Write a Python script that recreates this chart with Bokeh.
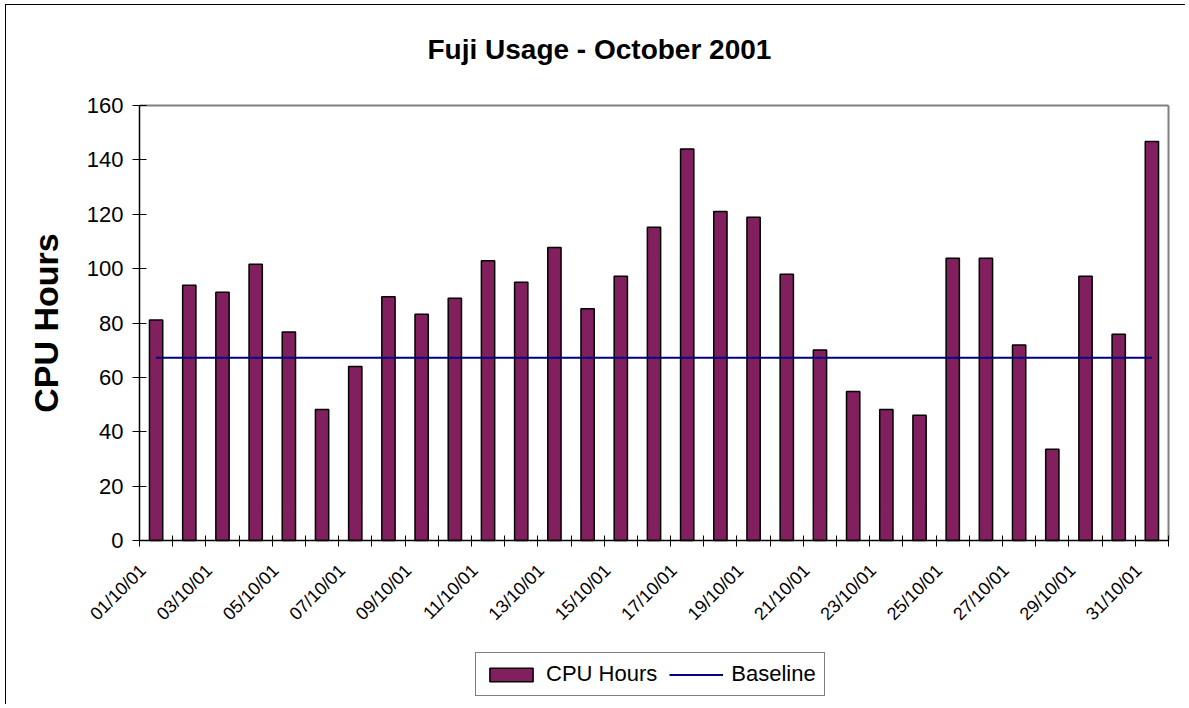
import math
import numpy as np
from bokeh.plotting import figure
from bokeh.models import Range1d, FixedTicker, Legend, LegendItem
from bokeh.embed import file_html
from bokeh.resources import INLINE

# ---------------- data ----------------
dates = ["01/10/01", "02/10/01", "03/10/01", "04/10/01", "05/10/01", "06/10/01",
         "07/10/01", "08/10/01", "09/10/01", "10/10/01", "11/10/01", "12/10/01",
         "13/10/01", "14/10/01", "15/10/01", "16/10/01", "17/10/01", "18/10/01",
         "19/10/01", "20/10/01", "21/10/01", "22/10/01", "23/10/01", "24/10/01",
         "25/10/01", "26/10/01", "27/10/01", "28/10/01", "29/10/01", "30/10/01",
         "31/10/01"]
cpu_hours = [81.1, 93.9, 91.3, 101.6, 76.7, 48.2, 64.0, 89.7, 83.2, 89.1,
             102.9, 95.0, 107.8, 85.2, 97.2, 115.2, 144.0, 121.0, 118.9, 97.9,
             70.1, 54.8, 48.2, 46.1, 103.8, 103.8, 71.9, 33.6, 97.2, 75.9,
             146.8]
baseline = [67.2, 67.2, 67.2, 67.2, 67.2, 67.2, 67.2, 67.2, 67.2, 67.2,
            67.2, 67.2, 67.2, 67.2, 67.2, 67.2, 67.2, 67.2, 67.2, 67.2,
            67.2, 67.2, 67.2, 67.2, 67.2, 67.2, 67.2, 67.2, 67.2, 67.2,
            67.2]
y_ticks = [0, 20, 40, 60, 80, 100, 120, 140, 160]
y_min, y_max = 0, 160
title_text = "Fuji Usage - October 2001"
y_label = "CPU Hours"

FONT = "Liberation Sans"
BAR_COLOR = "#82205F"
LINE_COLOR = "#000080"
GRAY = "#808080"

n = len(dates)
xpos = np.arange(1, n + 1)
x_lo, x_hi = 0.5, n + 0.5            # category-axis extent
label_idx = list(range(0, n, 2))     # every other category is labelled
label_pos = [float(xpos[i]) - 0.4 for i in label_idx]
boundaries = [float(v) for v in np.arange(x_lo, x_hi + 0.5, 1.0)]

# ---------------- layout (pixels) ----------------
W, H = 1180, 700
FR_LEFT, FR_RIGHT, FR_TOP, FR_BOTTOM = 4, 2, 80, 8    # frame borders
AX_LEFT, AX_RIGHT = 133, 1162        # value axis / right edge inside canvas
PAD_TOP = 20                          # px from frame top down to value max
PAD_BOTTOM = 157                      # px from frame bottom up to value 0
px_per_cat = (AX_RIGHT - AX_LEFT) / n
frame_h = H - FR_TOP - FR_BOTTOM
px_per_val = (frame_h - PAD_TOP - PAD_BOTTOM) / (y_max - y_min)

xr = Range1d(x_lo - (AX_LEFT - FR_LEFT) / px_per_cat,
             x_hi + (W - FR_RIGHT - AX_RIGHT) / px_per_cat)
yr = Range1d(y_min - PAD_BOTTOM / px_per_val, y_max + PAD_TOP / px_per_val)

p = figure(width=W, height=H, x_range=xr, y_range=yr,
           output_backend="svg", toolbar_location=None,
           min_border_left=FR_LEFT, min_border_right=FR_RIGHT,
           min_border_top=FR_TOP, min_border_bottom=FR_BOTTOM)
p.styles = {"margin-left": "5px", "margin-top": "4px",
            "border-left": "1px solid black", "border-top": "1px solid black"}

p.background_fill_color = "white"
p.border_fill_color = "white"
p.outline_line_color = None
p.xgrid.visible = False
p.ygrid.visible = False

# title
p.title.text = title_text
p.title.text_font = FONT
p.title.text_font_size = "28px"
p.title.text_font_style = "bold"
p.title.text_color = "black"
p.title.align = "left"
p.title.offset = 417
p.title.standoff = 42

# gray plot-area border (top and right)
p.segment(x0=[x_lo, x_hi], y0=[y_max, y_min], x1=[x_hi, x_hi], y1=[y_max, y_max],
          line_color=GRAY, line_width=2)

bars = p.vbar(x=xpos, top=cpu_hours, width=0.4, bottom=0,
              fill_color=BAR_COLOR, line_color="black", line_width=1.5)
line = p.line(x=xpos, y=baseline, line_color=LINE_COLOR, line_width=2)

# category axis at value 0
xa = p.xaxis[0]
xa.fixed_location = 0
xa.bounds = (x_lo, x_hi)
xa.ticker = FixedTicker(ticks=label_pos, minor_ticks=boundaries)
xa.major_label_overrides = {label_pos[k]: dates[i] for k, i in enumerate(label_idx)}
xa.major_label_orientation = math.pi / 4
xa.major_label_text_font = FONT
xa.major_label_text_font_size = "18px"
xa.major_label_text_color = "black"
xa.major_tick_in = 0
xa.major_tick_out = 0
xa.major_tick_line_color = None
xa.minor_tick_in = 5
xa.minor_tick_out = 6
xa.minor_tick_line_color = "black"
xa.minor_tick_line_width = 1
xa.axis_line_color = "black"
xa.axis_line_width = 1.5
xa.major_label_standoff = 21

# value axis at the left edge of the categories
ya = p.yaxis[0]
ya.fixed_location = x_lo
ya.bounds = (y_min, y_max)
ya.ticker = FixedTicker(ticks=y_ticks)
ya.major_label_text_font = FONT
ya.major_label_text_font_size = "22px"
ya.major_label_text_color = "black"
ya.major_tick_in = 7
ya.major_tick_out = 7
ya.major_tick_line_color = "black"
ya.minor_tick_line_color = None
ya.axis_line_color = "black"
ya.axis_line_width = 1.5
ya.major_label_standoff = 9
ya.axis_label = y_label
ya.axis_label_text_font = FONT
ya.axis_label_text_font_size = "34px"
ya.axis_label_text_font_style = "bold"
ya.axis_label_text_color = "black"
ya.axis_label_standoff = 19

legend = Legend(items=[LegendItem(label="CPU Hours", renderers=[bars]),
                       LegendItem(label="Baseline", renderers=[line])],
                orientation="horizontal", location=(465, 1))
legend.label_text_font = FONT
legend.label_text_font_size = "22px"
legend.label_text_color = "black"
legend.border_line_color = "black"
legend.border_line_width = 1
legend.background_fill_color = "white"
legend.background_fill_alpha = 1
legend.padding = 8
legend.margin = 0
legend.spacing = 12
legend.label_standoff = 8
legend.glyph_width = 54
legend.glyph_height = 17
p.add_layout(legend, "center")

open("out.html", "w").write(file_html(p, INLINE))
